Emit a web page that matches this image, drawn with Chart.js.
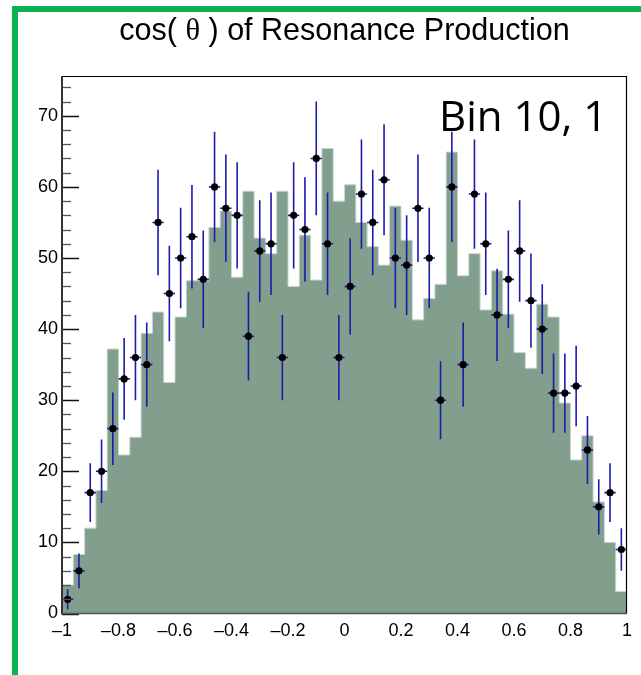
<!DOCTYPE html>
<html>
<head>
<meta charset="utf-8">
<script src="https://cdn.jsdelivr.net/npm/chart.js@4.4.1/dist/chart.umd.min.js"></script>
<style>
html,body{margin:0;padding:0;background:#fff;}
#wrap{position:relative;width:641px;height:675px;overflow:hidden;background:#fff;}
#greenFrame{position:absolute;left:12px;top:6px;width:650px;height:690px;border-top:6.5px solid #0bb24f;border-left:6.5px solid #0bb24f;box-sizing:border-box;}
#c{position:absolute;left:0;top:0;}
</style>
</head>
<body>
<div id="wrap"><div id="greenFrame"></div><canvas id="c" width="641" height="675"></canvas></div>
<script>
// ---- data ----
const xMin = -1, xMax = 1, nBins = 50;
const histCounts = [4.0, 8.3, 12.0, 17.3, 37.2, 22.3, 24.8, 39.4, 42.4, 32.5,
                    41.7, 46.8, 46.8, 54.3, 56.6, 47.3, 59.4, 52.8, 50.6, 59.4,
                    46.0, 53.2, 46.9, 65.4, 58.0, 60.3, 55.0, 51.6, 49.0, 57.3,
                    52.5, 41.3, 44.3, 46.3, 64.9, 47.5, 50.6, 42.7, 48.2, 42.1,
                    36.7, 34.5, 43.5, 41.7, 29.6, 21.6, 25.0, 15.7, 10.0, 3.1];
const dataCounts = [2, 6, 17, 20, 26, 33, 36, 35, 55, 45,
                    50, 53, 47, 60, 57, 56, 39, 51, 52, 36,
                    56, 54, 64, 52, 36, 46, 59, 55, 61, 50,
                    49, 57, 50, 30, 60, 35, 59, 52, 42, 47,
                    51, 44, 40, 31, 31, 32, 23, 15, 17, 9];
const xTickValues = [-1, -0.8, -0.6, -0.4, -0.2, 0, 0.2, 0.4, 0.6, 0.8, 1];
const xTickLabels = ['\u20131', '\u20130.8', '\u20130.6', '\u20130.4', '\u20130.2', '0', '0.2', '0.4', '0.6', '0.8', '1'];
const yTickValues = [0, 10, 20, 30, 40, 50, 60, 70];
const yTickLabels = ['0', '10', '20', '30', '40', '50', '60', '70'];
const yMax = 75.6;
const titleParts = ['cos( ', '\u03b8', ' ) of Resonance Production'];
const binLabel = 'Bin 10, 1';

// ---- derived structures ----
const binWidth = (xMax - xMin) / nBins;
const binLowEdges = histCounts.map((_, i) => xMin + i * binWidth);
const binCenters = binLowEdges.map(e => e + binWidth / 2);
const histPoints = histCounts.map((v, i) => ({x: binLowEdges[i], y: v}));
histPoints.push({x: xMax, y: histCounts[histCounts.length - 1]});
const dataPoints = dataCounts.map((v, i) => ({x: binCenters[i], y: v}));

const FONT = '"Liberation Sans", Arial, Helvetica, sans-serif';
const errColor = 'rgb(28,28,172)';

const rootDecor = {
  id: 'rootDecor',
  beforeDatasetDraw(chart, args) {
    if (args.index !== 1) return;
    const xs = chart.scales.x, ys = chart.scales.y, ctx = chart.ctx;
    ctx.save();
    ctx.strokeStyle = errColor;
    ctx.lineWidth = 1.6;
    dataCounts.forEach((n, i) => {
      const e = Math.sqrt(n);
      const cx = xs.getPixelForValue(binCenters[i]);
      const cy = ys.getPixelForValue(n);
      const yt = ys.getPixelForValue(n + e);
      const yb = ys.getPixelForValue(Math.max(n - e, 0));
      const xl = xs.getPixelForValue(binCenters[i] - binWidth / 2);
      const xr = xs.getPixelForValue(binCenters[i] + binWidth / 2);
      ctx.beginPath();
      ctx.moveTo(cx, yt); ctx.lineTo(cx, yb);
      ctx.moveTo(xl, cy); ctx.lineTo(xr, cy);
      ctx.stroke();
    });
    ctx.restore();
  },
  afterDraw(chart) {
    const ctx = chart.ctx, a = chart.chartArea, ys = chart.scales.y;
    ctx.save();
    // y ticks (inside)
    for (let v = 0; v <= yMax; v += 2) {
      const y = Math.round(ys.getPixelForValue(v)) + 0.5;
      const major = (v % 10 === 0);
      ctx.strokeStyle = major ? '#111' : '#555';
      ctx.lineWidth = major ? 1.5 : 1.3;
      ctx.beginPath();
      ctx.moveTo(a.left, y);
      ctx.lineTo(a.left + (major ? 17 : 9), y);
      ctx.stroke();
    }
    // frame
    ctx.strokeStyle = '#000';
    ctx.lineWidth = 1.2;
    ctx.beginPath();
    ctx.moveTo(a.left, a.top + 0.5); ctx.lineTo(a.right, a.top + 0.5);
    ctx.moveTo(a.right - 0.5, a.top); ctx.lineTo(a.right - 0.5, a.bottom);
    ctx.stroke();
    ctx.strokeStyle = '#333';
    ctx.lineWidth = 2;
    ctx.beginPath();
    ctx.moveTo(a.left, a.top); ctx.lineTo(a.left, a.bottom + 1);
    ctx.stroke();
    ctx.strokeStyle = '#555';
    ctx.lineWidth = 1.6;
    ctx.beginPath();
    ctx.moveTo(a.left, a.bottom); ctx.lineTo(a.right, a.bottom);
    ctx.stroke();
    // title
    ctx.fillStyle = '#000';
    ctx.textBaseline = 'alphabetic';
    const fonts = ['30.5px ' + FONT, '30.5px "Liberation Serif", serif', '30.5px ' + FONT];
    let total = 0;
    const widths = titleParts.map((t, i) => { ctx.font = fonts[i]; const w = ctx.measureText(t).width; total += w; return w; });
    let x = (a.left + a.right) / 2 - total / 2;
    titleParts.forEach((t, i) => { ctx.font = fonts[i]; ctx.textAlign = 'left'; ctx.fillText(t, x, 40); x += widths[i]; });
    // bin label
    ctx.font = '42px "Open Sans", sans-serif';
    ctx.textAlign = 'left';
    ctx.fillText(binLabel, 439, 131);
    ctx.restore();
  }
};

new Chart(document.getElementById('c'), {
  type: 'scatter',
  data: {
    datasets: [
      {
        type: 'line',
        label: 'hist',
        data: histPoints,
        stepped: 'before',
        fill: 'origin',
        backgroundColor: '#829e8c',
        borderColor: '#c9d6ce',
        borderWidth: 1,
        pointRadius: 0,
        order: 2
      },
      {
        type: 'scatter',
        label: 'data',
        data: dataPoints,
        pointRadius: 3.6,
        pointBackgroundColor: '#000',
        pointBorderColor: '#000',
        pointBorderWidth: 0,
        showLine: false,
        order: 1
      }
    ]
  },
  options: {
    responsive: false,
    devicePixelRatio: 1,
    animation: false,
    layout: {padding: {left: 0, top: 76, right: 14, bottom: 0}},
    plugins: {legend: {display: false}, tooltip: {enabled: false}, title: {display: false}},
    scales: {
      x: {
        type: 'linear', min: xMin, max: xMax,
        grid: {display: false, drawTicks: false},
        border: {display: false},
        afterBuildTicks: s => { s.ticks = xTickValues.map(v => ({value: v})); },
        afterFit: s => { s.height = 61.5; },
        ticks: {
          autoSkip: false, maxRotation: 0, padding: 7,
          color: '#000', font: {family: FONT, size: 18},
          callback: (v, i) => xTickLabels[i]
        }
      },
      y: {
        type: 'linear', min: 0, max: yMax,
        grid: {display: false, drawTicks: false},
        border: {display: false},
        afterBuildTicks: s => { s.ticks = yTickValues.map(v => ({value: v})); },
        afterFit: s => { s.width = 62; },
        ticks: {
          autoSkip: false, padding: 4,
          color: '#000', font: {family: FONT, size: 18},
          callback: (v, i) => yTickLabels[i]
        }
      }
    }
  },
  plugins: [rootDecor]
});
</script>
</body>
</html>
